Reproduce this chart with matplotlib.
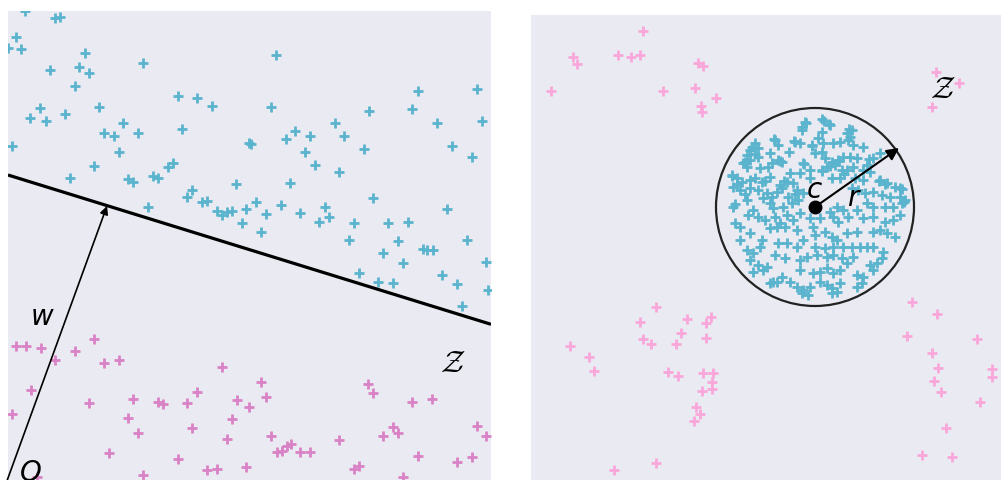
import matplotlib
matplotlib.use('Agg')
import matplotlib.pyplot as plt
from matplotlib.patches import Circle

plt.rcParams.update({
    'font.family': ['DejaVu Sans'],
    'mathtext.fontset': 'dejavusans',
})

BG = '#EAEAF2'
BLUE = '#5AB4CE'
PINK_L = '#D982C5'
PINK_R = '#F9A7DB'

# ---------------- left panel: half-space ----------------
left_pos_x = [25, 55, 60, 16, 8, 21, 85, 50, 79, 89, 143, 75, 178, 197, 212, 40, 30, 46, 65, 99,
              182, 123, 104, 114, 138, 12, 119, 249, 94, 168, 173, 70, 128, 133, 153, 158, 236,
              192, 187, 202, 207, 148, 217, 222, 227, 232, 246, 242,
              276, 271, 418, 477, 412, 369, 437, 482, 335, 295, 286, 310, 344, 251, 305, 364, 452,
              472, 315, 339, 290, 373, 447, 256, 266, 281, 300, 325, 329, 319, 354, 388, 408, 261,
              349, 398, 467, 383, 423, 427, 433, 486, 403, 359, 442, 378, 393, 457, 488, 462]
left_pos_y = [11, 18, 17, 37, 48, 49, 53, 70, 67, 73, 63, 86, 96, 98, 106, 108, 118, 121, 114, 107,
              129, 123, 133, 136, 133, 146, 152, 143, 166, 167, 163, 178, 179, 182, 176, 178, 184,
              190, 197, 202, 201, 207, 211, 215, 212, 211, 209, 223,
              55, 107, 91, 89, 109, 111, 123, 121, 123, 131, 139, 136, 136, 144, 152, 149, 146,
              157, 165, 172, 183, 198, 209, 202, 214, 205, 213, 207, 217, 222, 223, 223, 222, 232,
              240, 241, 240, 253, 249, 250, 250, 262, 263, 273, 275, 282, 283, 284, 290, 306]

left_neg_x = [16, 26, 41, 55, 75, 94, 104, 119, 222, 31, 12, 89, 133, 158, 163, 187, 197, 237,
              249, 128, 138, 192, 232, 227, 109, 178, 207, 217, 246, 143, 37,
              261, 266, 368, 373, 412, 432, 271, 277, 282, 287, 291, 300, 310, 339, 383, 393,
              398, 477, 486, 418, 457, 472, 354, 359, 403]
left_neg_y = [346, 346, 348, 360, 351, 339, 363, 360, 367, 390, 414, 403, 399, 402, 404, 403, 392,
              400, 407, 418, 433, 428, 419, 439, 453, 459, 470, 469, 467, 475, 477,
              382, 397, 384, 393, 402, 399, 436, 452, 451, 446, 444, 452, 452, 440, 436, 427,
              433, 426, 436, 456, 462, 457, 469, 466, 477]

# separating hyperplane and normal vector w
plane_x = [8, 491]
plane_y = [175, 324.3]
w_tail = (4, 489)
w_head = (107, 206)

# ---------------- right panel: hypersphere ----------------
center = (815, 207)
radius = 99
r_tip = (899, 148)

in_x = [806, 802, 824, 830, 822, 847, 852,
        775, 778, 795, 800, 812, 823, 818, 833, 840, 848, 853, 863, 755, 758, 750,
        747, 750, 758, 770, 778, 782, 803, 815, 822, 825, 832, 838, 843, 850, 857, 867, 873, 880,
        743, 747, 760, 768, 772, 790, 800, 810, 822, 827, 835, 842, 847, 853, 863, 870,
        732, 737, 742, 750, 755, 762, 770, 780, 787, 793, 810, 832, 840, 855, 863, 880, 887, 895, 900,
        733, 740, 750, 758, 767, 777, 782, 788, 797, 803, 852, 858, 865, 873, 882, 890, 900, 905,
        733, 747, 753, 763, 770, 773, 783, 792, 798, 830, 837, 843, 857, 867, 873, 885, 893, 902,
        735, 740, 748, 758, 765, 775, 780, 787, 793, 800, 810, 820, 833, 838, 848, 863, 873, 885, 893, 900,
        740, 750, 762, 770, 777, 785, 797, 813, 815, 825, 832, 837, 847, 857, 873, 880, 887, 895,
        747, 753, 760, 778, 787, 797, 803, 815, 825, 833, 843, 852, 860, 867, 873, 883,
        750, 758, 767, 775, 785, 800, 807, 817, 827, 833, 842, 847, 853, 870, 877, 882,
        753, 763, 773, 782, 800, 813, 820, 827, 833, 840, 857, 863, 873,
        770, 777, 790, 797, 803, 810, 820, 827, 832, 840, 857, 862,
        802, 808, 832, 837,
        732, 737, 745, 752, 755, 774, 780, 789, 794, 802, 805, 822, 829, 849, 850, 812,
        804, 822, 830, 839, 844, 869, 879, 885, 902, 904, 765, 784, 795, 745, 735, 772]
in_y = [123, 130, 121, 125, 132, 133, 130,
        140, 145, 142, 143, 145, 143, 138, 143, 142, 140, 145, 147, 143, 148, 150,
        155, 160, 157, 153, 160, 162, 163, 153, 152, 158, 162, 160, 157, 157, 158, 165, 158, 153,
        163, 167, 168, 167, 163, 173, 173, 170, 170, 167, 165, 170, 170, 167, 170, 172,
        175, 178, 182, 180, 178, 182, 177, 185, 182, 183, 178, 178, 178, 178, 180, 180, 183, 187, 188,
        187, 190, 188, 190, 193, 192, 188, 197, 190, 193, 188, 190, 193, 192, 195, 197, 197, 200,
        207, 200, 210, 198, 203, 208, 207, 203, 200, 212, 207, 210, 210, 203, 207, 207, 207, 203,
        223, 227, 215, 217, 220, 217, 223, 215, 220, 213, 218, 218, 217, 222, 217, 218, 217, 222, 220, 215,
        240, 233, 240, 228, 227, 227, 230, 227, 235, 232, 237, 240, 233, 232, 232, 230, 233, 237,
        250, 253, 247, 243, 243, 247, 240, 247, 248, 247, 247, 247, 247, 247, 247, 252,
        260, 265, 267, 255, 258, 260, 257, 255, 257, 255, 258, 263, 257, 265, 263, 258,
        272, 270, 282, 277, 270, 273, 272, 268, 273, 270, 275, 277, 270,
        283, 282, 282, 287, 290, 287, 282, 285, 288, 283, 287, 283,
        293, 295, 293, 292,
        176, 184, 162, 147, 154, 139, 161, 152, 141, 127, 122, 119, 124, 129, 137, 146,
        164, 171, 166, 161, 174, 159, 181, 184, 189, 202, 181, 181, 194, 194, 204, 197]

out_x = [643, 573, 577, 618, 631, 640, 698, 703, 551, 663, 695, 716, 701, 702,
         936, 959, 932,
         656, 640, 687, 706, 711, 681, 643, 651, 676, 706, 570, 589, 594, 668, 678,
         703, 713, 712, 712, 702, 696, 700, 694, 656, 614,
         912, 937, 907, 977, 932, 938, 934, 941, 992, 992, 980, 946, 922, 952]
out_y = [31, 57, 64, 55, 57, 55, 63, 66, 91, 91, 88, 98, 106, 112,
         72, 83, 107,
         307, 322, 319, 323, 317, 333, 339, 344, 344, 338, 346, 357, 371, 372, 376,
         373, 373, 382, 389, 391, 407, 414, 421, 463, 470,
         302, 314, 336, 339, 353, 368, 381, 392, 369, 377, 402, 428, 455, 457]

fig = plt.figure(figsize=(10.01, 4.80), dpi=100)
ax1 = fig.add_axes([8 / 1001, 0, 483 / 1001, 469 / 480])
ax2 = fig.add_axes([531 / 1001, 0, 470 / 1001, 465 / 480])

for ax in (ax1, ax2):
    ax.set_facecolor(BG)
    ax.set_xticks([])
    ax.set_yticks([])
    for s in ax.spines.values():
        s.set_visible(False)

# left
ax1.scatter(left_pos_x, left_pos_y, marker='+', s=60, linewidths=2, color=BLUE, zorder=2)
ax1.scatter(left_neg_x, left_neg_y, marker='+', s=60, linewidths=2, color=PINK_L, zorder=2)
ax1.plot(plane_x, plane_y, color='black', lw=2.3, zorder=3, solid_capstyle='butt')
ax1.annotate('', xy=w_head, xytext=w_tail,
             arrowprops=dict(arrowstyle='-|>', color='black', lw=1.2,
                             mutation_scale=12, shrinkA=0, shrinkB=0), zorder=4)
ax1.text(42, 317, '$w$', fontsize=20, ha='center', va='center')
ax1.text(30, 473, '$O$', fontsize=20, ha='center', va='center')
ax1.text(453, 363, r'$\mathcal{Z}$', fontsize=22, ha='center', va='center',
         math_fontfamily='cm')
ax1.set_xlim(8, 491)
ax1.set_ylim(480, 11)

# right
ax2.scatter(out_x, out_y, marker='+', s=60, linewidths=2, color=PINK_R, zorder=2)
ax2.scatter(in_x, in_y, marker='+', s=60, linewidths=2, color=BLUE, zorder=2)
ax2.add_patch(Circle(center, radius, fill=False, color='#222222', lw=1.6, zorder=3))
ax2.plot(*center, 'o', color='black', ms=9, zorder=5)
ax2.annotate('', xy=r_tip, xytext=center,
             arrowprops=dict(arrowstyle='-|>', color='black', lw=1.5,
                             mutation_scale=18, shrinkA=0, shrinkB=0), zorder=4)
ax2.text(814, 190, '$c$', fontsize=20, ha='center', va='center')
ax2.text(854, 198, '$r$', fontsize=20, ha='center', va='center')
ax2.text(943, 90, r'$\mathcal{Z}$', fontsize=22, ha='center', va='center',
         math_fontfamily='cm')
ax2.set_xlim(531, 1001)
ax2.set_ylim(480, 15)

fig.savefig('out.png', dpi=100, facecolor='white')
